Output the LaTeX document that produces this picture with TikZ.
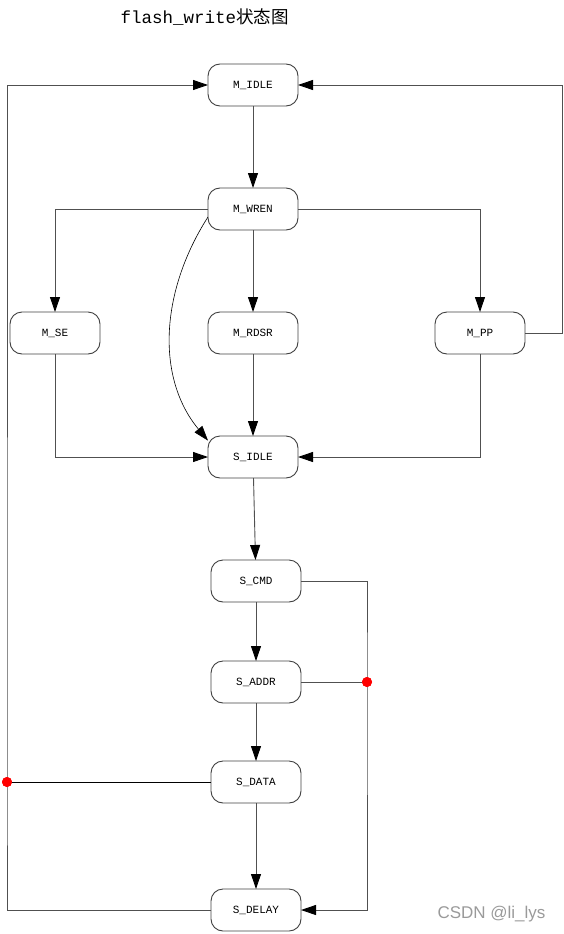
\documentclass[tikz,border=0pt]{standalone}
\usepackage{fontspec}
\usepackage{tikz}
\usetikzlibrary{arrows.meta,positioning,calc}
\newfontfamily\codefont{Liberation Mono}
\newfontfamily\cjk{Noto Sans CJK SC}
\newfontfamily\markfont{Liberation Sans}
\definecolor{edge}{HTML}{505050}
\definecolor{rim}{HTML}{404040}
\definecolor{mark}{HTML}{9A9A9A}
\tikzset{state/.style={draw=rim,line width=0.9pt,rounded corners=12pt,minimum width=90pt,minimum height=42pt,inner sep=2pt,outer sep=0pt,font=\codefont\fontsize{11}{12}\selectfont},arr/.style={-{Triangle[length=15pt,width=10pt,color=black]},line width=0.9pt,draw=edge},ln/.style={line width=0.9pt,draw=edge},jdot/.style={circle,fill=red,inner sep=0pt,minimum size=10pt}}
\begin{document}
\begin{tikzpicture}[x=1pt,y={(0,-1pt)},node distance=82pt]
\useasboundingbox (0,0) rectangle (563,934);
\node[anchor=west,font=\codefont\fontsize{17.5}{20}\selectfont] (title) at (117,17) {flash\_write{\cjk 状态图}};
\node[state] (midle) at (253,85) {M\_IDLE};
\node[state,below=of midle] (mwren) {M\_WREN};
\node[state,below=of mwren] (mrdsr) {M\_RDSR};
\node[state,left=108pt of mrdsr] (mse) {M\_SE};
\node[state,right=137pt of mrdsr] (mpp) {M\_PP};
\node[state,below=of mrdsr] (sidle) {S\_IDLE};
\node[state,below=of sidle,xshift=3pt] (scmd) {S\_CMD};
\node[state,below=59pt of scmd] (saddr) {S\_ADDR};
\node[state,below=58pt of saddr] (sdata) {S\_DATA};
\node[state,below=86pt of sdata] (sdelay) {S\_DELAY};
\node[jdot] (jr) at ($(saddr.east)+(66,0)$) {};
\node[jdot] (jl) at ($(sdata.west)+(-204,0)$) {};
\node[anchor=east,font=\markfont\fontsize{17}{19}\selectfont,text=mark] (wm) at (549,914) {CSDN @li\_lys};
\draw[arr] (midle)--(mwren);
\draw[arr] (mwren.west)-|(mse.north);\draw[arr] (mwren)--(mrdsr);\draw[arr] (mwren.east)-|(mpp.north);
\draw[arr,draw=black,line width=0.6pt] (mwren.190) .. controls (160,292) and (156,378) .. (sidle.160);
\draw[arr] (mrdsr)--(sidle);\draw[arr] (mse.south)|-(sidle.west);\draw[arr] (mpp.south)|-(sidle.east);
\draw[arr] (mpp.east)--++(37,0)|-(midle.east);
\draw[arr] (sidle)--(scmd);\draw[arr] (scmd)--(saddr);\draw[arr] (saddr)--(sdata);\draw[arr] (sdata)--(sdelay);
\draw[arr] (scmd.east)-|(jr.center)|-(sdelay.east);\draw[ln] (saddr.east)--(jr.center);
\draw[ln,draw=black] (sdata.west)--(jl.center);\draw[arr] (sdelay.west)-|(jl.center)|-(midle.west);
\node[jdot] at (jr) {};\node[jdot] at (jl) {};
\end{tikzpicture}
\end{document}
